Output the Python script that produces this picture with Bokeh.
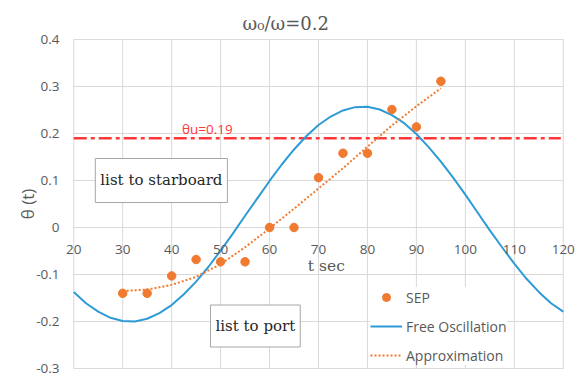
from bokeh.plotting import figure
from bokeh.models import Range1d, FixedTicker, Label, Legend, LegendItem
from bokeh.embed import file_html
from bokeh.resources import INLINE

# Measured SEP roll angles
t_sep = [30, 35, 40, 45, 50, 55, 60, 65, 70, 75, 80, 85, 90, 95]
theta_sep = [-0.140, -0.140, -0.103, -0.068, -0.073, -0.073, 0.000, 0.000,
             0.106, 0.158, 0.158, 0.251, 0.214, 0.311]

# Free oscillation curve, sampled every 2.5 s
t_free = [20, 22.5, 25, 27.5, 30, 32.5, 35, 37.5, 40, 42.5, 45, 47.5, 50,
          52.5, 55, 57.5, 60, 62.5, 65, 67.5, 70, 72.5, 75, 77.5, 80, 82.5,
          85, 87.5, 90, 92.5, 95, 97.5, 100, 102.5, 105, 107.5, 110, 112.5,
          115, 117.5, 120]
theta_free = [-0.137, -0.161, -0.179, -0.192, -0.199, -0.200, -0.194, -0.182,
              -0.165, -0.142, -0.115, -0.084, -0.049, -0.013, 0.025, 0.062,
              0.099, 0.134, 0.166, 0.194, 0.218, 0.236, 0.249, 0.256, 0.257,
              0.251, 0.239, 0.222, 0.199, 0.171, 0.140, 0.106, 0.070, 0.032,
              -0.006, -0.042, -0.077, -0.109, -0.137, -0.161, -0.179]

# Approximation curve through the SEP data
t_approx = [30, 35, 40, 45, 50, 55, 60, 65, 70, 75, 80, 85, 90, 95]
theta_approx = [-0.135, -0.132, -0.122, -0.105, -0.078, -0.042, -0.002, 0.040,
                0.083, 0.126, 0.172, 0.217, 0.258, 0.296]

# Upper threshold angle
theta_u = 0.19

x_ticks = [20, 30, 40, 50, 60, 70, 80, 90, 100, 110, 120]
y_ticks = [-0.3, -0.2, -0.1, 0.0, 0.1, 0.2, 0.3, 0.4]
y_tick_labels = ["-0.3", "-0.2", "-0.1", "0", "0.1", "0.2", "0.3", "0.4"]

GRID = "#d9d9d9"
TXT = "#595959"
BLUE = "#2f9bd6"
ORANGE = "#f07a30"
RED = "#ff3838"
SANS = "Open Sans"
SERIF = "DejaVu Serif"

# The frame runs a little past 20..120 so the end tick labels of the
# zero-crossing axis are not clipped; the grid is drawn over 20..120 only.
p = figure(width=582, height=376, output_backend="svg", toolbar_location=None,
           x_range=Range1d(17.5, 122.5), y_range=Range1d(-0.302, 0.402),
           min_border_left=61, min_border_right=7, min_border_top=38,
           min_border_bottom=7)

p.title.text = "ω₀/ω=0.2"
p.title.text_font = SERIF
p.title.text_font_style = "normal"
p.title.text_font_size = "18px"
p.title.text_color = TXT
p.title.align = "left"
p.title.offset = 181
p.title.standoff = 10

p.outline_line_color = None
p.background_fill_color = "white"
p.border_fill_color = "white"
p.xgrid.visible = False
p.ygrid.visible = False

p.segment(x0=x_ticks, x1=x_ticks, y0=y_ticks[0], y1=y_ticks[-1],
          line_color=GRID, line_width=1)
p.segment(x0=x_ticks[0], x1=x_ticks[-1], y0=y_ticks, y1=y_ticks,
          line_color=GRID, line_width=1)

# Horizontal axis crosses at zero
xa = p.xaxis[0]
xa.fixed_location = 0
xa.ticker = FixedTicker(ticks=x_ticks)
xa.axis_line_color = None
xa.major_tick_line_color = None
xa.minor_tick_line_color = None
xa.major_tick_out = 0
xa.major_tick_in = 0
xa.major_label_standoff = 17
xa.major_label_text_font = SANS
xa.major_label_text_font_size = "13.5px"
xa.major_label_text_color = TXT

ya = p.yaxis[0]
ya.ticker = FixedTicker(ticks=y_ticks)
ya.major_label_overrides = dict(zip(y_ticks, y_tick_labels))
ya.axis_line_color = None
ya.major_tick_line_color = None
ya.minor_tick_line_color = None
ya.major_tick_out = 0
ya.major_tick_in = 0
ya.major_label_standoff = 2
ya.major_label_text_font = SANS
ya.major_label_text_font_size = "13.5px"
ya.major_label_text_color = TXT
ya.axis_label = "θ (t)"
ya.axis_label_text_font = SANS
ya.axis_label_text_font_size = "17px"
ya.axis_label_text_font_style = "normal"
ya.axis_label_text_color = TXT
ya.axis_label_standoff = -6

# Threshold line and its label
p.segment(x0=20, x1=119.5, y0=theta_u, y1=theta_u, line_color=RED,
          line_width=2.5, line_dash="13 4 4 4")
p.add_layout(Label(x=47.3, y=0.21, text=f"θu={theta_u}", text_align="center",
                   text_baseline="middle", text_font=SANS,
                   text_font_size="13.5px", text_color=RED))

free = p.line(t_free, theta_free, line_color=BLUE, line_width=2)
approx = p.line(t_approx, theta_approx, line_color=ORANGE, line_width=2,
                line_dash="2 2")
sep = p.scatter(t_sep, theta_sep, size=8.5, fill_color=ORANGE,
                line_color=ORANGE)

# Axis title and region notes
p.add_layout(Label(x=71.6, y=-0.081, text="t sec", text_align="center",
                   text_baseline="middle", text_font=SERIF,
                   text_font_size="15.5px", text_color=TXT))
for tx, ty, txt, pad in [(37.9, 0.100, "list to starboard", 13),
                         (57.1, -0.2095, "list to port", 12)]:
    p.add_layout(Label(x=tx, y=ty, text=txt, text_align="center",
                       text_baseline="middle", text_font=SERIF,
                       text_font_size="15px", text_color="#262626",
                       background_fill_color="white",
                       border_line_color="#a6a6a6", border_line_width=1,
                       padding=(5, pad)))

legend = Legend(items=[LegendItem(label="SEP", renderers=[sep]),
                       LegendItem(label="Free Oscillation", renderers=[free]),
                       LegendItem(label="Approximation", renderers=[approx])],
                location=(309, 4), orientation="vertical",
                glyph_width=32, glyph_height=20, label_height=20,
                label_standoff=4, spacing=9, padding=0, margin=0,
                border_line_color=None, background_fill_color="white",
                background_fill_alpha=1.0,
                label_text_font=SANS, label_text_font_size="14px",
                label_text_color=TXT)
p.add_layout(legend)

open("out.html", "w").write(file_html(p, INLINE))
